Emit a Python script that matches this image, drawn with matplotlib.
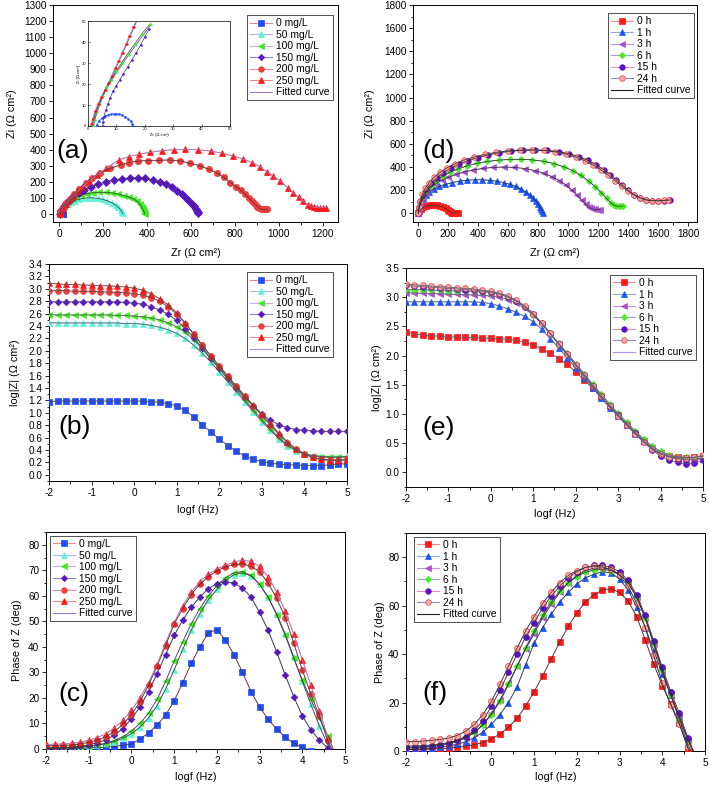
import matplotlib
matplotlib.use('Agg')
from matplotlib import pyplot as plt
from matplotlib.lines import Line2D
from matplotlib.ticker import MultipleLocator, FormatStrFormatter

plt.rcParams['font.family'] = ['Liberation Sans', 'DejaVu Sans']
plt.rcParams['axes.linewidth'] = 0.7

# ---------------- data ----------------
# log frequency grid of the Bode plots
logf = [-2.0, -1.8, -1.6, -1.4, -1.2, -1.0, -0.8, -0.6, -0.4, -0.2,
        0.0, 0.2, 0.4, 0.6, 0.8, 1.0, 1.2, 1.4, 1.6, 1.8,
        2.0, 2.2, 2.4, 2.6, 2.8, 3.0, 3.2, 3.4, 3.6, 3.8,
        4.0, 4.2, 4.4, 4.6, 4.8, 5.0]

# (a) Nyquist, inhibitor concentration
zr_0mg = [3, 4, 5, 6, 7, 8, 9, 10, 11, 12, 13, 14, 15, 15.6, 16]
zi_0mg = [0.5, 2.5, 3.8, 4.7, 5.3, 5.6, 5.8, 5.8, 5.6, 5.2, 4.5, 3.5, 2.2, 1.0, 0.2]
zr_50mg = [2, 5, 10, 18, 28, 40, 54, 70, 88, 108, 130, 152, 175, 198, 220, 240, 257, 270, 280, 286, 290]
zi_50mg = [0, 12, 24, 37, 50, 62, 73, 83, 91, 97, 100, 100, 97, 91, 82, 70, 56, 41, 26, 12, 3]
zr_100mg = [2, 5, 10, 18, 28, 42, 58, 78, 100, 125, 152, 182, 212, 242, 270, 296, 318, 338, 354, 366,
            375, 381, 385, 388, 390]
zi_100mg = [0, 14, 28, 44, 60, 77, 92, 106, 117, 126, 132, 135, 135, 131, 124, 114, 105, 95, 80, 62,
            45, 30, 17, 8, 2]
zr_150mg = [5, 8, 14, 22, 33, 47, 65, 88, 115, 145, 178, 212, 248, 285, 322, 358, 392, 425, 457, 487,
            514, 538, 559, 577, 592, 604, 614, 621, 627, 631, 634]
zi_150mg = [0, 15, 32, 50, 70, 90, 111, 132, 152, 170, 186, 200, 211, 219, 224, 225, 221, 212, 200, 184,
            166, 146, 124, 102, 82, 64, 47, 33, 21, 10, 3]
zr_200mg = [2, 6, 12, 20, 32, 48, 68, 92, 120, 150, 185, 233, 280, 317, 360, 405, 455, 504, 552, 598,
            640, 682, 718, 750, 780, 805, 826, 846, 865, 877, 887, 896, 903, 911, 918, 926, 933, 941, 948]
zi_200mg = [0, 12, 28, 45, 68, 95, 125, 158, 192, 225, 255, 284, 306, 320, 329, 332, 334, 336, 330, 315,
            300, 278, 255, 228, 195, 170, 149, 125, 98, 82, 66, 56, 46, 38, 31, 29, 29, 29, 29]
zr_250mg = [2, 5, 10, 18, 30, 45, 62, 82, 105, 135, 170, 215, 271, 317, 362, 415, 469, 522, 575, 632,
            690, 742, 793, 838, 880, 915, 945, 976, 1006, 1043, 1067, 1093, 1111, 1131, 1146, 1161, 1175,
            1189, 1202, 1216]
zi_250mg = [0, 8, 20, 38, 60, 85, 110, 140, 170, 205, 240, 285, 336, 356, 371, 384, 394, 400, 402, 399,
            392, 378, 361, 342, 320, 293, 263, 235, 207, 160, 129, 104, 81, 56, 47, 41, 40, 39, 39, 39]

# (a) inset, high frequency part
in_zr_50mg = [2.0, 2.4, 3.2, 4.2, 5.4, 6.8, 8.4, 10.2, 12.2, 14.4, 16.8, 19.4, 22.2]
in_zi_50mg = [0, 3, 6.5, 10.5, 14.5, 18.5, 22, 25.8, 29.8, 34, 38.5, 43.3, 48.3]
in_zr_100mg = [1.6, 2.0, 2.8, 3.8, 5.0, 6.4, 8.0, 9.8, 11.8, 14.0, 16.4, 19.0, 21.8]
in_zi_100mg = [0, 3, 6.5, 10.5, 14.5, 18.5, 22, 26, 30, 34.5, 39, 44, 48.5]
in_zr_150mg = [5.2, 5.3, 5.6, 6.2, 7.0, 7.8, 8.8, 10.0, 11.2, 12.5, 14.0, 15.5, 17.0, 18.5, 20.0, 21.5]
in_zi_150mg = [0, 2, 4.5, 7.5, 10.5, 13.5, 16.5, 19.2, 22, 25, 28.3, 31.5, 35, 38.5, 42.5, 46]
in_zr_200mg = [1.5, 1.9, 2.7, 3.8, 5.0, 6.2, 7.4, 8.6, 9.8, 11.0, 12.3, 13.6, 14.9, 16.2, 17.5]
in_zi_200mg = [1, 3.5, 7, 10.5, 14, 17.2, 20.4, 24, 27.6, 31, 35, 39, 43, 47, 51]
in_zr_250mg = [1.2, 1.6, 2.4, 3.5, 4.7, 5.9, 7.1, 8.3, 9.5, 10.7, 12.0, 13.3, 14.6, 15.9, 17.2]
in_zi_250mg = [1, 3.5, 7, 10.5, 14, 17.2, 20.4, 24, 27.6, 31, 35, 39, 43, 47, 51]

# (b) log|Z|, inhibitor concentration
logz_0mg = [1.18, 1.19, 1.19, 1.19, 1.19, 1.19, 1.19, 1.19, 1.19, 1.19,
            1.19, 1.19, 1.18, 1.17, 1.15, 1.11, 1.04, 0.93, 0.81, 0.69,
            0.58, 0.47, 0.38, 0.30, 0.25, 0.21, 0.19, 0.17, 0.16, 0.16,
            0.15, 0.15, 0.15, 0.16, 0.17, 0.18]
logz_50mg = [2.45, 2.45, 2.45, 2.45, 2.45, 2.45, 2.45, 2.45, 2.45, 2.44,
             2.44, 2.43, 2.41, 2.38, 2.34, 2.28, 2.20, 2.09, 1.96, 1.82,
             1.66, 1.50, 1.34, 1.18, 1.02, 0.86, 0.72, 0.58, 0.47, 0.39,
             0.34, 0.31, 0.30, 0.29, 0.29, 0.30]
logz_100mg = [2.58, 2.58, 2.58, 2.58, 2.58, 2.58, 2.58, 2.58, 2.57, 2.57,
              2.56, 2.55, 2.53, 2.50, 2.45, 2.39, 2.30, 2.18, 2.03, 1.87,
              1.71, 1.54, 1.38, 1.21, 1.05, 0.89, 0.74, 0.60, 0.48, 0.40,
              0.34, 0.31, 0.29, 0.28, 0.28, 0.29]
logz_150mg = [2.79, 2.79, 2.79, 2.79, 2.79, 2.79, 2.79, 2.79, 2.79, 2.78,
              2.77, 2.75, 2.71, 2.66, 2.59, 2.49, 2.36, 2.21, 2.05, 1.88,
              1.72, 1.56, 1.40, 1.25, 1.11, 0.98, 0.88, 0.81, 0.76, 0.73,
              0.72, 0.71, 0.70, 0.70, 0.70, 0.70]
logz_200mg = [2.97, 2.97, 2.97, 2.96, 2.96, 2.96, 2.95, 2.95, 2.94, 2.94,
              2.92, 2.90, 2.86, 2.80, 2.71, 2.59, 2.44, 2.27, 2.09, 1.92,
              1.76, 1.59, 1.43, 1.27, 1.11, 0.96, 0.80, 0.65, 0.52, 0.41,
              0.33, 0.28, 0.25, 0.24, 0.24, 0.25]
logz_250mg = [3.09, 3.08, 3.07, 3.07, 3.06, 3.06, 3.05, 3.05, 3.04, 3.03,
              3.01, 2.98, 2.92, 2.84, 2.74, 2.61, 2.45, 2.27, 2.09, 1.92,
              1.75, 1.59, 1.43, 1.27, 1.12, 0.98, 0.82, 0.67, 0.53, 0.42,
              0.34, 0.28, 0.25, 0.23, 0.23, 0.24]

# (c) phase angle, inhibitor concentration
phase_0mg = [0.1, 0.1, 0.2, 0.2, 0.3, 0.4, 0.5, 0.7, 1.0, 1.4,
             2.0, 3.8, 6.3, 9.4, 13.3, 18.8, 26.0, 33.5, 40.0, 45.5,
             46.8, 42.7, 37.0, 30.0, 22.5, 16.5, 11.6, 7.8, 4.6, 2.3,
             0.6, -0.6, -1.6, -2.6, -3.6, -4.6]
phase_50mg = [0.2, 0.3, 0.4, 0.5, 0.7, 1.0, 1.4, 2.0, 2.9, 4.2,
              6.0, 8.6, 12.2, 17.0, 23.5, 31.0, 39.0, 46.5, 53.0, 58.5,
              62.5, 66.0, 68.3, 69.0, 67.8, 64.5, 59.5, 53.0, 45.0, 36.0,
              26.5, 17.5, 9.0, 1.5, -4.0, -8.0]
phase_100mg = [0.3, 0.4, 0.5, 0.6, 0.8, 1.1, 1.6, 2.3, 3.3, 4.8,
               7.0, 10.0, 14.0, 19.5, 26.5, 34.5, 42.0, 49.0, 55.0, 60.0,
               64.0, 67.0, 69.0, 69.5, 68.0, 64.5, 59.5, 52.5, 44.5, 35.5,
               27.0, 19.5, 12.0, 5.0, -3.0, -8.0]
phase_150mg = [0.4, 0.5, 0.6, 0.8, 1.1, 1.6, 2.4, 3.6, 5.4, 8.0,
               11.8, 16.5, 22.5, 29.5, 37.0, 44.5, 50.5, 55.5, 59.5, 62.8,
               64.8, 65.5, 65.0, 63.0, 59.5, 53.5, 46.5, 38.0, 29.0, 20.5,
               13.0, 7.5, 3.5, 0.3, -3.0, -6.0]
phase_200mg = [1.2, 1.3, 1.4, 1.6, 2.0, 2.6, 3.5, 4.8, 6.8, 9.6,
               13.5, 18.5, 25.0, 32.5, 40.5, 49.0, 55.0, 60.5, 64.5, 67.5,
               69.8, 71.3, 72.3, 72.5, 71.5, 69.5, 65.0, 59.0, 51.5, 41.5,
               31.0, 21.5, 13.0, 3.0, -4.0, -9.0]
phase_250mg = [1.8, 1.9, 2.0, 2.2, 2.7, 3.4, 4.5, 6.0, 8.2, 11.2,
               15.2, 20.0, 26.0, 33.0, 41.5, 49.5, 56.0, 61.5, 65.5, 68.5,
               70.5, 72.0, 73.2, 74.0, 73.5, 71.5, 67.5, 61.5, 54.0, 45.0,
               35.0, 25.0, 15.0, 4.5, -3.0, -8.0]

# (d) Nyquist, immersion time
zr_0h = [0, 8, 20, 35, 55, 78, 100, 122, 145, 165, 182, 196, 208, 218, 228, 240, 252, 265]
zi_0h = [0, 20, 38, 52, 63, 69, 70, 68, 62, 53, 42, 30, 18, 9, 5, 5, 5, 5]
zr_1h = [0, 5, 15, 30, 50, 75, 105, 140, 180, 225, 275, 325, 375, 425, 475, 525, 570, 612, 650, 685,
         715, 742, 765, 785, 800, 812, 821, 827, 831]
zi_1h = [0, 40, 80, 120, 155, 185, 210, 232, 250, 265, 278, 286, 290, 290, 286, 277, 265, 250, 232, 210,
         185, 160, 133, 106, 80, 56, 35, 17, 5]
zr_3h = [0, 5, 15, 30, 52, 80, 115, 155, 200, 250, 305, 365, 430, 500, 570, 640, 710, 775, 835, 890,
         940, 985, 1025, 1060, 1090, 1115, 1135, 1150, 1165, 1180, 1195, 1210]
zi_3h = [0, 45, 90, 135, 178, 218, 253, 285, 312, 336, 357, 374, 388, 397, 400, 397, 387, 370, 347, 318,
         283, 244, 200, 155, 112, 78, 55, 42, 36, 34, 33, 33]
zr_6h = [0, 5, 15, 32, 55, 85, 120, 162, 210, 265, 325, 390, 460, 535, 610, 685, 760, 835, 905, 970,
         1030, 1085, 1135, 1180, 1220, 1255, 1285, 1305, 1320, 1335, 1350, 1365]
zi_6h = [0, 48, 98, 148, 195, 240, 282, 320, 354, 384, 410, 431, 448, 460, 466, 467, 462, 450, 430, 402,
         368, 327, 280, 230, 178, 130, 90, 70, 63, 62, 62, 63]
zr_15h = [0, 5, 15, 32, 55, 85, 122, 165, 215, 270, 330, 395, 465, 540, 620, 700, 780, 860, 935, 1005,
          1070, 1130, 1185, 1235, 1280, 1320, 1360, 1400, 1440, 1480, 1520, 1560, 1600, 1640, 1680]
zi_15h = [0, 52, 105, 158, 210, 258, 305, 350, 390, 425, 456, 482, 505, 524, 537, 545, 548, 544, 533, 515,
          490, 458, 420, 378, 335, 290, 245, 200, 162, 135, 118, 110, 108, 110, 115]
zr_24h = [0, 4, 12, 26, 46, 72, 105, 145, 192, 246, 306, 372, 443, 518, 596, 676, 756, 836, 912, 983,
          1050, 1112, 1168, 1220, 1268, 1312, 1355, 1398, 1440, 1480, 1520, 1560, 1600, 1640, 1665]
zi_24h = [0, 55, 110, 163, 215, 264, 310, 354, 394, 430, 461, 487, 509, 527, 540, 547, 548, 543, 531, 512,
          486, 454, 416, 374, 328, 282, 236, 192, 156, 130, 114, 108, 108, 112, 118]

# (e) log|Z|, immersion time
logz_0h = [2.41, 2.37, 2.35, 2.34, 2.33, 2.32, 2.32, 2.31, 2.31, 2.30,
           2.30, 2.29, 2.28, 2.26, 2.23, 2.18, 2.12, 2.04, 1.95, 1.85,
           1.72, 1.58, 1.44, 1.29, 1.14, 0.98, 0.83, 0.68, 0.54, 0.42,
           0.33, 0.28, 0.26, 0.25, 0.26, 0.28]
logz_1h = [2.92, 2.92, 2.92, 2.92, 2.92, 2.92, 2.92, 2.92, 2.92, 2.91,
           2.89, 2.85, 2.80, 2.74, 2.67, 2.58, 2.45, 2.29, 2.13, 1.96,
           1.79, 1.62, 1.45, 1.27, 1.11, 0.96, 0.81, 0.66, 0.53, 0.41,
           0.32, 0.26, 0.23, 0.22, 0.22, 0.23]
logz_3h = [3.08, 3.07, 3.07, 3.06, 3.06, 3.05, 3.05, 3.04, 3.04, 3.03,
           3.02, 3.00, 2.96, 2.90, 2.81, 2.69, 2.54, 2.37, 2.19, 2.01,
           1.83, 1.65, 1.47, 1.30, 1.13, 0.98, 0.83, 0.68, 0.54, 0.42,
           0.33, 0.27, 0.24, 0.23, 0.23, 0.24]
logz_6h = [3.13, 3.13, 3.13, 3.12, 3.12, 3.11, 3.11, 3.10, 3.10, 3.09,
           3.08, 3.05, 3.00, 2.93, 2.83, 2.70, 2.55, 2.38, 2.21, 2.04,
           1.86, 1.69, 1.51, 1.34, 1.17, 1.01, 0.86, 0.71, 0.57, 0.45,
           0.36, 0.30, 0.27, 0.26, 0.26, 0.27]
logz_15h = [3.20, 3.19, 3.18, 3.17, 3.16, 3.15, 3.14, 3.13, 3.12, 3.11,
            3.09, 3.06, 3.01, 2.94, 2.84, 2.71, 2.55, 2.38, 2.20, 2.02,
            1.84, 1.66, 1.48, 1.31, 1.14, 0.98, 0.82, 0.67, 0.52, 0.39,
            0.28, 0.21, 0.17, 0.15, 0.16, 0.21]
logz_24h = [3.23, 3.21, 3.20, 3.19, 3.18, 3.17, 3.16, 3.15, 3.14, 3.12,
            3.10, 3.07, 3.02, 2.95, 2.85, 2.72, 2.56, 2.38, 2.20, 2.02,
            1.84, 1.66, 1.48, 1.30, 1.13, 0.97, 0.81, 0.66, 0.52, 0.40,
            0.31, 0.27, 0.25, 0.25, 0.26, 0.29]

# (f) phase angle, immersion time
phase_0h = [0.5, 0.6, 0.7, 0.8, 1.0, 1.2, 1.5, 2.0, 2.6, 3.5,
            5.0, 7.0, 9.8, 13.5, 18.5, 24.5, 31.0, 38.0, 45.0, 51.5,
            57.0, 61.5, 64.5, 66.5, 67.0, 65.5, 62.0, 55.5, 46.0, 36.0,
            27.0, 19.5, 11.5, 1.0, -5.0, -10.0]
phase_1h = [0.6, 0.7, 0.9, 1.1, 1.5, 2.0, 2.8, 3.9, 5.5, 7.8,
            11.0, 15.0, 20.0, 26.5, 35.5, 44.5, 51.0, 56.5, 61.5, 65.5,
            69.0, 71.5, 73.0, 74.0, 73.5, 71.0, 66.5, 59.5, 51.0, 41.5,
            32.0, 23.0, 14.0, 5.0, -3.0, -8.0]
phase_3h = [1.2, 1.3, 1.5, 1.8, 2.2, 2.9, 3.9, 5.4, 7.6, 10.8,
            15.5, 21.0, 28.0, 35.0, 42.0, 48.5, 55.0, 60.5, 65.5, 69.5,
            72.5, 74.5, 75.5, 75.6, 75.0, 73.0, 69.5, 63.5, 55.0, 44.0,
            33.0, 23.0, 14.0, 4.5, -3.0, -8.0]
phase_6h = [2.0, 2.1, 2.2, 2.5, 2.9, 3.5, 4.4, 5.8, 7.8, 10.8,
            15.0, 20.5, 27.5, 35.0, 42.5, 49.5, 56.0, 61.5, 66.0, 69.5,
            72.0, 73.8, 74.8, 75.0, 74.5, 72.8, 69.5, 63.5, 55.0, 44.5,
            33.5, 23.0, 13.0, 2.5, -4.0, -9.0]
phase_15h = [1.5, 1.6, 1.8, 2.1, 2.6, 3.3, 4.4, 6.0, 8.5, 12.5,
             18.5, 25.0, 32.5, 40.0, 47.0, 53.0, 59.0, 64.0, 68.0, 71.5,
             74.0, 75.8, 76.6, 76.6, 75.8, 74.0, 70.5, 64.5, 56.0, 45.5,
             34.5, 24.5, 15.5, 5.5, -3.0, -8.0]
phase_24h = [3.8, 3.9, 4.1, 4.4, 4.8, 5.4, 6.4, 8.2, 11.0, 15.0,
             20.5, 27.5, 35.0, 42.5, 49.5, 55.5, 61.0, 65.5, 69.5, 72.5,
             74.5, 75.8, 76.2, 76.0, 75.0, 72.5, 68.0, 61.0, 51.0, 39.5,
             28.0, 19.0, 11.0, 1.5, -5.0, -10.0]

conc_labels = ['0 mg/L', '50 mg/L', '100 mg/L', '150 mg/L', '200 mg/L', '250 mg/L']
time_labels = ['0 h', '1 h', '3 h', '6 h', '15 h', '24 h']

# ---------------- styles ----------------
conc_colors = ['#1f4cff', '#5ff2d8', '#3bee1c', '#5a14d0', '#f03c3c', '#ff1616']
conc_faces = conc_colors
conc_markers = ['s', '^', '<', 'D', 'o', '^']
conc_lines = ['#f08a8a', '#a8b8e8', '#d0a8f0', '#8a84d8', '#f08a8a', '#f08a8a']
conc_fits = ['#3a3a3a', '#3a3a3a', '#3a3a3a', '#3a3a3a', '#3a3a3a', '#9c7ad0']

time_colors = ['#ff1a1a', '#1a55ff', '#a94fd0', '#48ee24', '#5a10cc', '#f03c3c']
time_faces = ['#ff1a1a', '#1a55ff', '#a94fd0', '#48ee24', '#5a10cc', '#ffa8a8']
time_markers = ['s', '^', '<', 'D', 'o', 'o']
time_lines = ['#f08a8a', '#90a8e8', '#c890e0', '#9aa0e0', '#f08ab8', '#8a90c8']


def style_axes(ax, xlim, ylim, xmajor, xminor, ymajor, yminor, xfmt='%d', yfmt='%d', size=7.2):
    ax.set_xlim(xlim)
    ax.set_ylim(ylim)
    ax.xaxis.set_major_locator(MultipleLocator(xmajor))
    ax.yaxis.set_major_locator(MultipleLocator(ymajor))
    if xminor:
        ax.xaxis.set_minor_locator(MultipleLocator(xminor))
    if yminor:
        ax.yaxis.set_minor_locator(MultipleLocator(yminor))
    ax.xaxis.set_major_formatter(FormatStrFormatter(xfmt))
    ax.yaxis.set_major_formatter(FormatStrFormatter(yfmt))
    ax.tick_params(which='both', direction='out', top=False, right=False,
                   labelsize=size, width=0.6, pad=1.5)
    ax.tick_params(which='major', length=3.2)
    ax.tick_params(which='minor', length=1.8)


def set_labels(ax, xlabel, ylabel, xpos, ypos, size=7.8):
    ax.set_xlabel(xlabel, fontsize=size)
    ax.set_ylabel(ylabel, fontsize=size)
    ax.xaxis.set_label_coords(0.5, xpos)
    ax.yaxis.set_label_coords(ypos, 0.5)
    ax.xaxis.label.set_va('center')
    ax.yaxis.label.set_va('center')


def plot_series(ax, x, y, color, face, marker, line_color, fit_color, ms, z):
    if marker == 'D':
        ms = ms * 0.8
    ax.plot(x, y, color=line_color, lw=0.7, zorder=z)
    ax.plot(x, y, ls='none', marker=marker, ms=ms, mfc=face, mec=color, mew=0.5, zorder=z)
    ax.plot(x, y, color=fit_color, lw=0.5, zorder=30)


def add_legend(ax, labels, colors, faces, markers, line_colors, fit_color, anchor, loc):
    handles = []
    for lab, c, fc, m, lc in zip(labels, colors, faces, markers, line_colors):
        ms = 3.2 if m == 'D' else 4.0
        handles.append(Line2D([], [], color=lc, lw=0.8, marker=m, ms=ms, mfc=fc, mec=c,
                              mew=0.5, label=lab))
    handles.append(Line2D([], [], color=fit_color, lw=0.8, label='Fitted curve'))
    leg = ax.legend(handles=handles, loc=loc, bbox_to_anchor=anchor, fontsize=7.4,
                    frameon=True, fancybox=False, edgecolor='#333333', framealpha=1,
                    borderaxespad=0, borderpad=0.3, labelspacing=0.15, handlelength=2.1,
                    handletextpad=0.45, numpoints=1)
    leg.get_frame().set_linewidth(0.6)
    leg.set_zorder(40)


def panel_tag(ax, tag, x, y):
    ax.text(x, y, tag, transform=ax.transAxes, fontsize=19, ha='left', va='center', zorder=41)


fig = plt.figure(figsize=(7.09, 7.87), dpi=100)

ax_a = fig.add_axes([0.0748, 0.7179, 0.4020, 0.2757])
ax_d = fig.add_axes([0.5825, 0.7179, 0.4006, 0.2757])
ax_b = fig.add_axes([0.0691, 0.3888, 0.4203, 0.2757])
ax_e = fig.add_axes([0.5726, 0.3812, 0.4189, 0.2783])
ax_c = fig.add_axes([0.0649, 0.0483, 0.4217, 0.2757])
ax_f = fig.add_axes([0.5726, 0.0457, 0.4217, 0.2770])
ax_in = fig.add_axes([0.1241, 0.8399, 0.2003, 0.1334])

# (a) Nyquist, concentration
nyq_conc = [(zr_0mg, zi_0mg), (zr_50mg, zi_50mg), (zr_100mg, zi_100mg),
            (zr_150mg, zi_150mg), (zr_200mg, zi_200mg), (zr_250mg, zi_250mg)]
for i, (zr, zi) in enumerate(nyq_conc):
    plot_series(ax_a, zr, zi, conc_colors[i], conc_faces[i], conc_markers[i],
                conc_lines[i], conc_fits[i], 4.5, 3 + i)
style_axes(ax_a, (-28, 1270), (-50, 1300), 200, 100, 100, None)
set_labels(ax_a, 'Zr (Ω cm²)', 'Zi (Ω cm²)', -0.143, -0.144)
add_legend(ax_a, conc_labels, conc_colors, conc_faces, conc_markers, conc_lines,
           '#9c7ad0', (0.982, 0.954), 'upper right')
panel_tag(ax_a, '(a)', 0.012, 0.325)

# (a) inset
ax_in.set_zorder(35)
nyq_inset = [(zr_0mg, zi_0mg), (in_zr_50mg, in_zi_50mg), (in_zr_100mg, in_zi_100mg),
             (in_zr_150mg, in_zi_150mg), (in_zr_200mg, in_zi_200mg), (in_zr_250mg, in_zi_250mg)]
for i, (zr, zi) in enumerate(nyq_inset):
    ax_in.plot(zr, zi, color=conc_fits[i] if i != 0 else conc_colors[0], lw=0.5, zorder=3)
    ax_in.plot(zr, zi, ls='none', marker='o', ms=1.5, mfc=conc_colors[i], mec=conc_colors[i],
               mew=0.3, zorder=4)
ax_in.set_xlim(0, 50)
ax_in.set_ylim(0, 50)
ax_in.xaxis.set_major_locator(MultipleLocator(10))
ax_in.yaxis.set_major_locator(MultipleLocator(10))
ax_in.tick_params(which='both', direction='in', labelsize=3, width=0.4, length=1.5, pad=1)
for s in ax_in.spines.values():
    s.set_linewidth(0.5)
ax_in.set_xlabel('Zr (Ω cm²)', fontsize=3, labelpad=1)
ax_in.set_ylabel('Zi (Ω cm²)', fontsize=3, labelpad=1)

# (d) Nyquist, time
nyq_time = [(zr_0h, zi_0h), (zr_1h, zi_1h), (zr_3h, zi_3h),
            (zr_6h, zi_6h), (zr_15h, zi_15h), (zr_24h, zi_24h)]
for i, (zr, zi) in enumerate(nyq_time):
    plot_series(ax_d, zr, zi, time_colors[i], time_faces[i], time_markers[i],
                time_lines[i], '#303030', 4.0, 3 + i)
style_axes(ax_d, (-35, 1858), (-75, 1800), 200, 100, 200, 100)
set_labels(ax_d, 'Zr (Ω cm²)', 'Zi (Ω cm²)', -0.143, -0.151)
add_legend(ax_d, time_labels, time_colors, time_faces, time_markers, time_lines,
           '#202020', (0.989, 0.963), 'upper right')
panel_tag(ax_d, '(d)', 0.032, 0.327)

# (b) |Z|, concentration
bode_conc = [logz_0mg, logz_50mg, logz_100mg, logz_150mg, logz_200mg, logz_250mg]
for i, logz in enumerate(bode_conc):
    plot_series(ax_b, logf, logz, conc_colors[i], conc_faces[i], conc_markers[i],
                conc_lines[i], '#505050', 4.2, 3 + i)
style_axes(ax_b, (-2, 5), (-0.1, 3.4), 1, 0.5, 0.2, 0.1, yfmt='%.1f')
set_labels(ax_b, 'logf (Hz)', 'log|Z| (Ω cm²)', -0.134, -0.114)
add_legend(ax_b, conc_labels, conc_colors, conc_faces, conc_markers, conc_lines,
           '#b090e0', (0.953, 0.963), 'upper right')
panel_tag(ax_b, '(b)', 0.03, 0.249)

# (e) |Z|, time
bode_time = [logz_0h, logz_1h, logz_3h, logz_6h, logz_15h, logz_24h]
for i, logz in enumerate(bode_time):
    plot_series(ax_e, logf, logz, time_colors[i], time_faces[i], time_markers[i],
                time_lines[i], '#606070', 4.2, 3 + i)
style_axes(ax_e, (-2, 5), (-0.25, 3.5), 1, 0.5, 0.5, 0.25, yfmt='%.1f')
set_labels(ax_e, 'logf (Hz)', 'log|Z| (Ω cm²)', -0.123, -0.098)
add_legend(ax_e, time_labels, time_colors, time_faces, time_markers, time_lines,
           '#b090e0', (0.976, 0.968), 'upper right')
panel_tag(ax_e, '(e)', 0.054, 0.269)

# (c) phase, concentration
phase_conc = [phase_0mg, phase_50mg, phase_100mg, phase_150mg, phase_200mg, phase_250mg]
for i, ph in enumerate(phase_conc):
    plot_series(ax_c, logf, ph, conc_colors[i], conc_faces[i], conc_markers[i],
                conc_lines[i], conc_fits[i], 4.2, 3 + i)
style_axes(ax_c, (-2, 5), (0, 85), 1, 0.5, 10, 5)
set_labels(ax_c, 'logf (Hz)', 'Phase of Z (deg)', -0.129, -0.097)
add_legend(ax_c, conc_labels, conc_colors, conc_faces, conc_markers, conc_lines,
           '#9c7ad0', (0.013, 0.982), 'upper left')
panel_tag(ax_c, '(c)', 0.04, 0.253)

# (f) phase, time
phase_time = [phase_0h, phase_1h, phase_3h, phase_6h, phase_15h, phase_24h]
for i, ph in enumerate(phase_time):
    plot_series(ax_f, logf, ph, time_colors[i], time_faces[i], time_markers[i],
                time_lines[i], '#303030', 4.3, 3 + i)
style_axes(ax_f, (-2, 5), (0, 90), 1, 0.5, 20, 10)
set_labels(ax_f, 'logf (Hz)', 'Phase of Z (deg)', -0.119, -0.087)
add_legend(ax_f, time_labels, time_colors, time_faces, time_markers, time_lines,
           '#202020', (0.027, 0.982), 'upper left')
panel_tag(ax_f, '(f)', 0.054, 0.266)

fig.savefig('out.png', dpi=100)
